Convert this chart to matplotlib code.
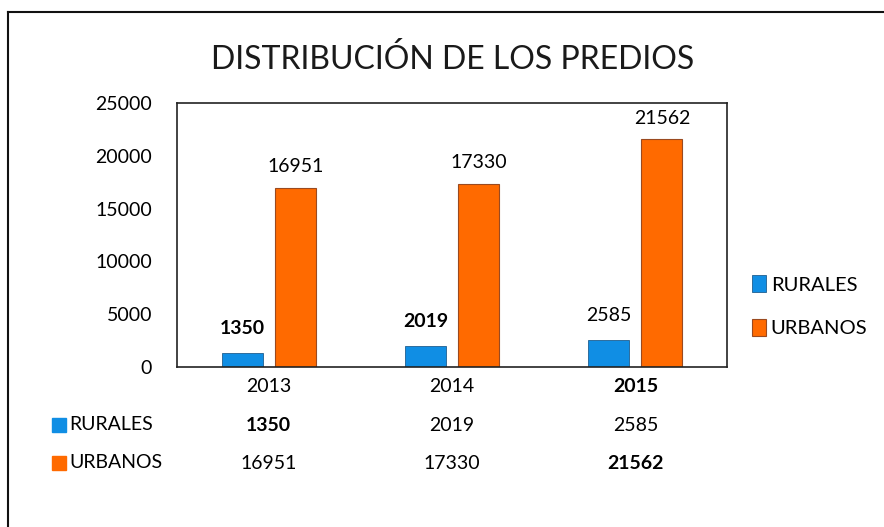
import numpy as np
import matplotlib.pyplot as plt
from matplotlib.lines import Line2D
from matplotlib.patches import Rectangle

years = ["2013", "2014", "2015"]
rurales = [1350, 2019, 2585]
urbanos = [16951, 17330, 21562]
series_names = ["RURALES", "URBANOS"]

blue = "#108ee4"
orange = "#ff6a00"

plt.rcParams['font.family'] = ['Lato', 'DejaVu Sans']

fig = plt.figure(figsize=(8.84, 5.27), dpi=100)
ax = fig.add_axes([0.2002, 0.3036, 0.6222, 0.501])

x = np.arange(len(years))
w = 0.224
off = 0.145
b1 = ax.bar(x - off, rurales, w, color=blue, edgecolor="#1f5f90", linewidth=0.6)
b2 = ax.bar(x + off, urbanos, w, color=orange, edgecolor="#9a4a20", linewidth=0.8)

ax.set_xlim(-0.5, 2.5)
ax.set_ylim(0, 25000)
ax.set_yticks(np.arange(0, 25001, 5000))
ax.tick_params(axis='y', length=0, labelsize=14, pad=18)
ax.set_xticks([])
for s in ax.spines.values():
    s.set_linewidth(1.2)
    s.set_color("#222222")

# data labels
for i in range(len(years)):
    ax.annotate(str(rurales[i]), (x[i] - off, rurales[i]), xytext=(0, 11),
                textcoords="offset points", ha="center", va="bottom", fontsize=14,
                fontweight="bold" if i < 2 else "normal")
    ax.annotate(str(urbanos[i]), (x[i] + off, urbanos[i]), xytext=(0, 9),
                textcoords="offset points", ha="center", va="bottom", fontsize=14)

# data table under the chart
tr = ax.get_xaxis_transform()
for i in range(len(years)):
    ax.text(x[i], -0.075, years[i], transform=tr, ha="center", va="center", fontsize=14,
            fontweight="bold" if i == 2 else "normal")
    ax.text(x[i], -0.22, str(rurales[i]), transform=tr, ha="center", va="center", fontsize=14,
            fontweight="bold" if i == 0 else "normal")
    ax.text(x[i], -0.364, str(urbanos[i]), transform=tr, ha="center", va="center", fontsize=14,
            fontweight="bold" if i == 2 else "normal")

for name, col, yy in [(series_names[0], blue, 425), (series_names[1], orange, 463)]:
    fig.patches.append(Rectangle((52 / 884, 1 - (yy + 7) / 527), 14 / 884, 14 / 527,
                                 transform=fig.transFigure, color=col))
    fig.text(69 / 884, 1 - yy / 527, name, ha="left", va="center", fontsize=14)

# right legend
ax.legend([b1, b2], series_names, loc="center left", bbox_to_anchor=(1.03, 0.23),
          frameon=False, fontsize=14.5, handlelength=0.7, handleheight=0.9,
          handletextpad=0.25, labelspacing=1.25, borderaxespad=0)

fig.suptitle("DISTRIBUCIÓN DE LOS PREDIOS", x=0.512, y=0.888, fontsize=23,
             fontweight="normal", color="#1a1a1a", va="center")

# scanned outer frame
fig.add_artist(Line2D([8 / 884, 1], [1 - 12 / 527, 1 - 12 / 527], color="#111111",
                      linewidth=1.5, transform=fig.transFigure))
fig.add_artist(Line2D([8 / 884, 8 / 884], [0, 1 - 12 / 527], color="#111111",
                      linewidth=1.5, transform=fig.transFigure))

fig.savefig("out.png", dpi=100)
